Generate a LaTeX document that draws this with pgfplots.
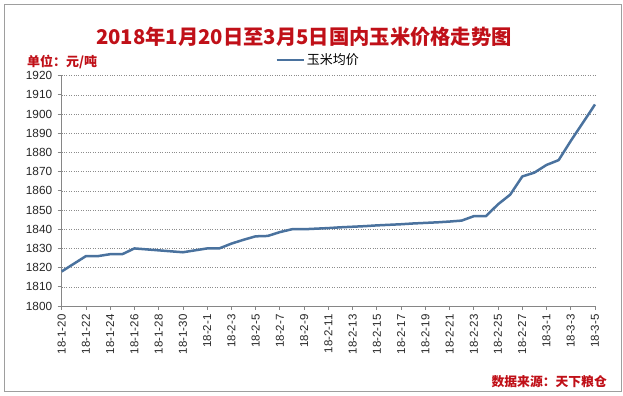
\documentclass[border=0pt]{standalone}
\usepackage{pgfplots}
\pgfplotsset{compat=1.18}
\usepackage{fontspec}
\setmainfont{Liberation Sans}
\newfontfamily\cjk{Noto Sans CJK SC}
\definecolor{titlered}{RGB}{192,16,24}
\definecolor{lineblue}{RGB}{74,114,158}
\definecolor{axgray}{RGB}{134,134,134}
\begin{document}
\begin{tikzpicture}
\useasboundingbox (0,0) rectangle (623bp,396bp);
\draw[axgray!80, line width=0.8bp] (4bp,5bp) rectangle (621bp,392bp);
\node[text=titlered, font=\cjk\bfseries\fontsize{20.3bp}{23bp}\selectfont, inner sep=0pt] at (304bp,359bp) {2018年1月20日至3月5日国内玉米价格走势图};
\node[text=titlered, font=\cjk\bfseries\fontsize{13bp}{15bp}\selectfont, inner sep=0pt, anchor=west] at (27bp,334bp) {单位：元/吨};
\node[text=titlered, font=\cjk\bfseries\fontsize{12.8bp}{14bp}\selectfont, inner sep=0pt, anchor=east] at (607bp,14bp) {数据来源：天下粮仓};
\begin{axis}[
  at={(61.7bp,90bp)}, anchor=south west,
  scale only axis, width=533.3bp, height=230.3bp,
  xmin=0, xmax=44, ymin=1800, ymax=1920,
  ytick={1800,1810,...,1920},
  xtick={0,2,...,44},
  xticklabels={18-1-20,18-1-22,18-1-24,18-1-26,18-1-28,18-1-30,18-2-1,18-2-3,18-2-5,18-2-7,18-2-9,18-2-11,18-2-13,18-2-15,18-2-17,18-2-19,18-2-21,18-2-23,18-2-25,18-2-27,18-3-1,18-3-3,18-3-5},
  axis x line*=bottom, axis y line*=left,
  axis line style={axgray, line width=0.8bp, -},
  tick align=outside, major tick length=4bp,
  tick style={axgray, line width=0.8bp},
  ymajorgrids, major grid style={gray!90, dotted, line width=0.6bp},
  /pgf/number format/assume math mode=true,
  /pgf/number format/1000 sep={},
  yticklabel style={font=\fontsize{11.8bp}{13bp}\selectfont, text=black!85, xshift=-2bp},
  xticklabel style={font=\fontsize{11.5bp}{13bp}\selectfont, text=black!85, rotate=90, anchor=east, xshift=-1bp},
  legend style={draw=none, fill=none, at={(0.40,1.068)}, anchor=west, inner xsep=0pt, inner ysep=0pt, font=\cjk\fontsize{13bp}{15bp}\selectfont},
  legend image code/.code={\draw[#1, line width=2.6bp] (0bp,0bp) -- (27bp,0bp);},
  clip=false,
]
\addplot[lineblue, line width=2.5bp, line join=round] coordinates {
(0,1818) (1,1822) (2,1826) (3,1826) (4,1827) (5,1827) (6,1830) (7,1829.5)
(8,1829) (9,1828.5) (10,1828) (11,1829) (12,1830) (13,1830) (14,1832.5)
(15,1834.5) (16,1836.3) (17,1836.5) (18,1838.5) (19,1840) (20,1840)
(21,1840.3) (22,1840.6) (23,1841) (24,1841.3) (25,1841.6) (26,1842)
(27,1842.3) (28,1842.6) (29,1843) (30,1843.3) (31,1843.6) (32,1844)
(33,1844.5) (34,1846.8) (35,1846.8) (36,1853) (37,1858) (38,1867.5)
(39,1869.5) (40,1873.5) (41,1876) (42,1886) (43,1895.5) (44,1905)
};
\addlegendentry{玉米均价}
\end{axis}
\end{tikzpicture}
\end{document}
